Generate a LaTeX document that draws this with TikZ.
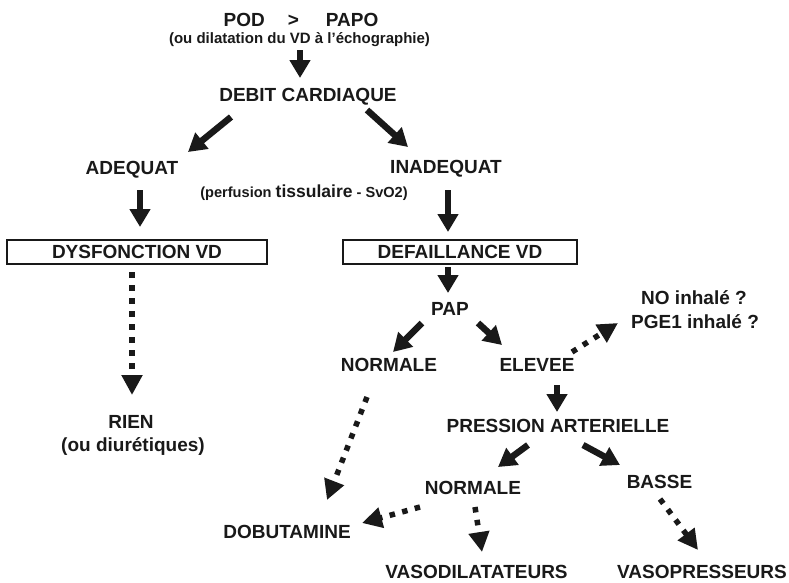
\documentclass[tikz,border=0pt]{standalone}
\usepackage{fontspec}
\setmainfont{Liberation Sans}
\usetikzlibrary{arrows.meta}
\begin{document}
\begin{tikzpicture}[x=1pt,y=-1pt,
  lbl/.style={font=\fontsize{19}{22}\selectfont\bfseries, inner sep=0pt,
              text height=13.6pt, text depth=0pt, text=black!90},
  small/.style={font=\fontsize{15}{18}\selectfont\bfseries, inner sep=0pt,
              text height=10.7pt, text depth=0pt, text=black!90},
  framed/.style={lbl, draw=black!90, line width=2pt, minimum height=24pt},
  arr/.style={draw=black!90, line width=6.5pt, -{Triangle[width=20pt,length=18pt]}},
  dotarr/.style={draw=black!90, line width=5.5pt, dash pattern=on 5.5pt off 7.5pt,
                 -{Triangle[width=20pt,length=20pt]}}]
\useasboundingbox (0,0) rectangle (789,582);

% --- labels ---
\node[lbl] (pod) at (301,20) {POD\hspace{23pt}>\hspace{27pt}PAPO};
\node[small] (oudil) at (299.5,38) {(ou dilatation du VD à l'échographie)};
\node[lbl] (debit) at (308,95) {DEBIT CARDIAQUE};
\node[lbl] (adequat) at (132,168) {ADEQUAT};
\node[lbl] (inadequat) at (446,167) {INADEQUAT};
\node[small] (perf) at (304,192) {{\fontsize{14.6}{16}\selectfont(perfusion }{\fontsize{17.5}{19}\selectfont tissulaire}{\fontsize{14.6}{16}\selectfont{} - SvO2)}};
\node[framed, minimum width=260pt] (dysf) at (137,252) {DYSFONCTION VD};
\node[framed, minimum width=234pt] (def) at (460,251.5) {DEFAILLANCE VD};
\node[lbl] (rien) at (131,422) {RIEN};
\node[lbl] (oudiur) at (133,445) {(ou diurétiques)};
\node[lbl] (pap) at (450,309) {PAP};
\node[lbl] (norm1) at (389,365) {NORMALE};
\node[lbl] (elevee) at (537,365) {ELEVEE};
\node[lbl] (no) at (694,298) {NO inhalé ?};
\node[lbl] (pge) at (695,322) {PGE1 inhalé ?};
\node[lbl] (pression) at (558,426) {PRESSION ARTERIELLE};
\node[lbl] (norm2) at (473,488) {NORMALE};
\node[lbl] (basse) at (659.5,482) {BASSE};
\node[lbl] (dobut) at (287,532) {DOBUTAMINE};
\node[lbl] (vasod) at (476.5,572) {VASODILATATEURS};
\node[lbl] (vasop) at (702,572) {VASOPRESSEURS};

% --- solid arrows ---
\draw[arr] ([shift={(0.5,12)}]oudil.center) -- ([shift={(-8,-17)}]debit.center);
\draw[arr] ([shift={(-77,22)}]debit.center) -- ([shift={(56,-16)}]adequat.center);
\draw[arr] ([shift={(59,15)}]debit.center) -- ([shift={(-38,-20)}]inadequat.center);
\draw[arr] ([shift={(8,22)}]adequat.center) -- ([shift={(3,-25)}]dysf.center);
\draw[arr] ([shift={(2,23)}]inadequat.center) -- ([shift={(-12,-19.5)}]def.center);
\draw[arr] ([shift={(-12,15.5)}]def.center) -- ([shift={(-2,-16)}]pap.center);
\draw[arr] ([shift={(-28,14)}]pap.center) -- ([shift={(4,-13)}]norm1.center);
\draw[arr] ([shift={(28,14)}]pap.center) -- ([shift={(-35,-20)}]elevee.center);
\draw[arr] ([shift={(20,20)}]elevee.center) -- ([shift={(-1,-14)}]pression.center);
\draw[arr] ([shift={(-30,19)}]pression.center) -- ([shift={(25,-21)}]norm2.center);
\draw[arr] ([shift={(25,19)}]pression.center) -- ([shift={(-39.5,-17)}]basse.center);

% --- dotted arrows ---
\draw[dotarr] ([shift={(-5,20)}]dysf.center) -- ([shift={(1,-27)}]rien.center);
\draw[dotarr] ([shift={(35,-13)}]elevee.center) -- ([shift={(-77,1)}]pge.center);
\draw[dotarr] ([shift={(-22,32)}]norm1.center) -- ([shift={(40,-32)}]dobut.center);
\draw[dotarr] ([shift={(-53,19)}]norm2.center) -- ([shift={(75,-9)}]dobut.center);
\draw[dotarr] ([shift={(2,19)}]norm2.center) -- ([shift={(5.5,-20)}]vasod.center);
\draw[dotarr] ([shift={(0.5,17)}]basse.center) -- ([shift={(-4,-22)}]vasop.center);
\end{tikzpicture}
\end{document}
